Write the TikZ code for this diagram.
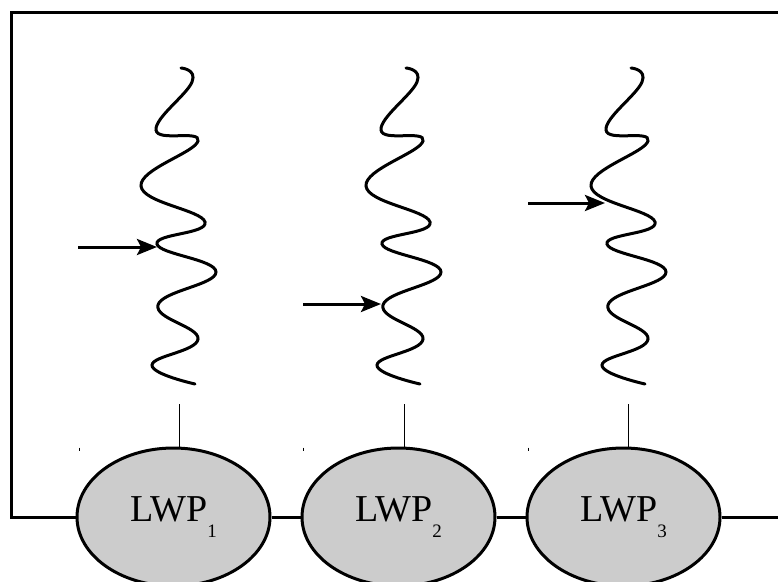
\documentclass[tikz,border=0pt]{standalone}
\usepackage{fontspec}
\setmainfont{Liberation Serif}
\usetikzlibrary{arrows.meta,shapes.geometric}
\newcommand{\lwpsub}[1]{\raisebox{-16pt}{\fontsize{19}{19}\selectfont #1}}

\begin{document}
\begin{tikzpicture}[x=1pt,y=-1pt]

\tikzset{lwp/.style={ellipse,draw,line width=3pt,fill=black!20,minimum width=193pt,minimum height=138pt,inner sep=0pt,font=\fontsize{38}{38}\selectfont},}
\tikzset{wire/.style={line width=3pt},}
\tikzset{thread/.style={line width=3pt,line cap=round},}
\tikzset{stub/.style={line width=1pt},}
\tikzset{hit/.style={-{Stealth[length=20pt,width=16pt,inset=4pt]},line width=3pt},}

\useasboundingbox (0,0) rectangle (778,581);

%LWPs
\node[lwp] (lwp1) at (173.5,517) {LWP\lwpsub{1}};
\node[lwp] (lwp2) at (398.5,517) {LWP\lwpsub{2}};
\node[lwp] (lwp3) at (623.5,517) {LWP\lwpsub{3}};

%frame
\coordinate (bl) at (11,517);
\coordinate (tl) at (11,12);
\coordinate (tr) at (778,12);
\coordinate (br) at (778,517);
\draw[wire] (lwp1.west) -- (bl) -- (tl) -- (tr);
\draw[wire] (lwp1.east) -- (lwp2.west);
\draw[wire] (lwp2.east) -- (lwp3.west);
\draw[wire] (lwp3.east) -- (br);

%threads
\foreach \i in {0,1,2}{
\draw[thread,xshift=\i*225] plot[smooth,tension=0.75] coordinates {(181,68) (192,82) (156,130) (198,141) (141,186) (205,222) (157,244) (216,272) (158,305) (198,339) (152,365) (195,384)};
}

\coordinate (h1) at (179,404);
\coordinate (h2) at (404,404);
\coordinate (h3) at (628.5,404);
\draw[stub] (h1) -- (h1 |- lwp1.north);
\draw[stub] (h2) -- (h2 |- lwp2.north);
\draw[stub] (h3) -- (h3 |- lwp3.north);

\draw[stub] (79,447.5) -- (79,450.5);
\draw[stub] (303,447.5) -- (303,450.5);
\draw[stub] (528,447.5) -- (528,450.5);

%arrows
\coordinate (a1) at (78,247);
\coordinate (t1) at (157,247);
\coordinate (a2) at (303,304);
\coordinate (t2) at (381,304);
\coordinate (a3) at (528,203);
\coordinate (t3) at (605,203);
\draw[hit] (a1) -- (t1);
\draw[hit] (a2) -- (t2);
\draw[hit] (a3) -- (t3);

\end{tikzpicture}
\end{document}
